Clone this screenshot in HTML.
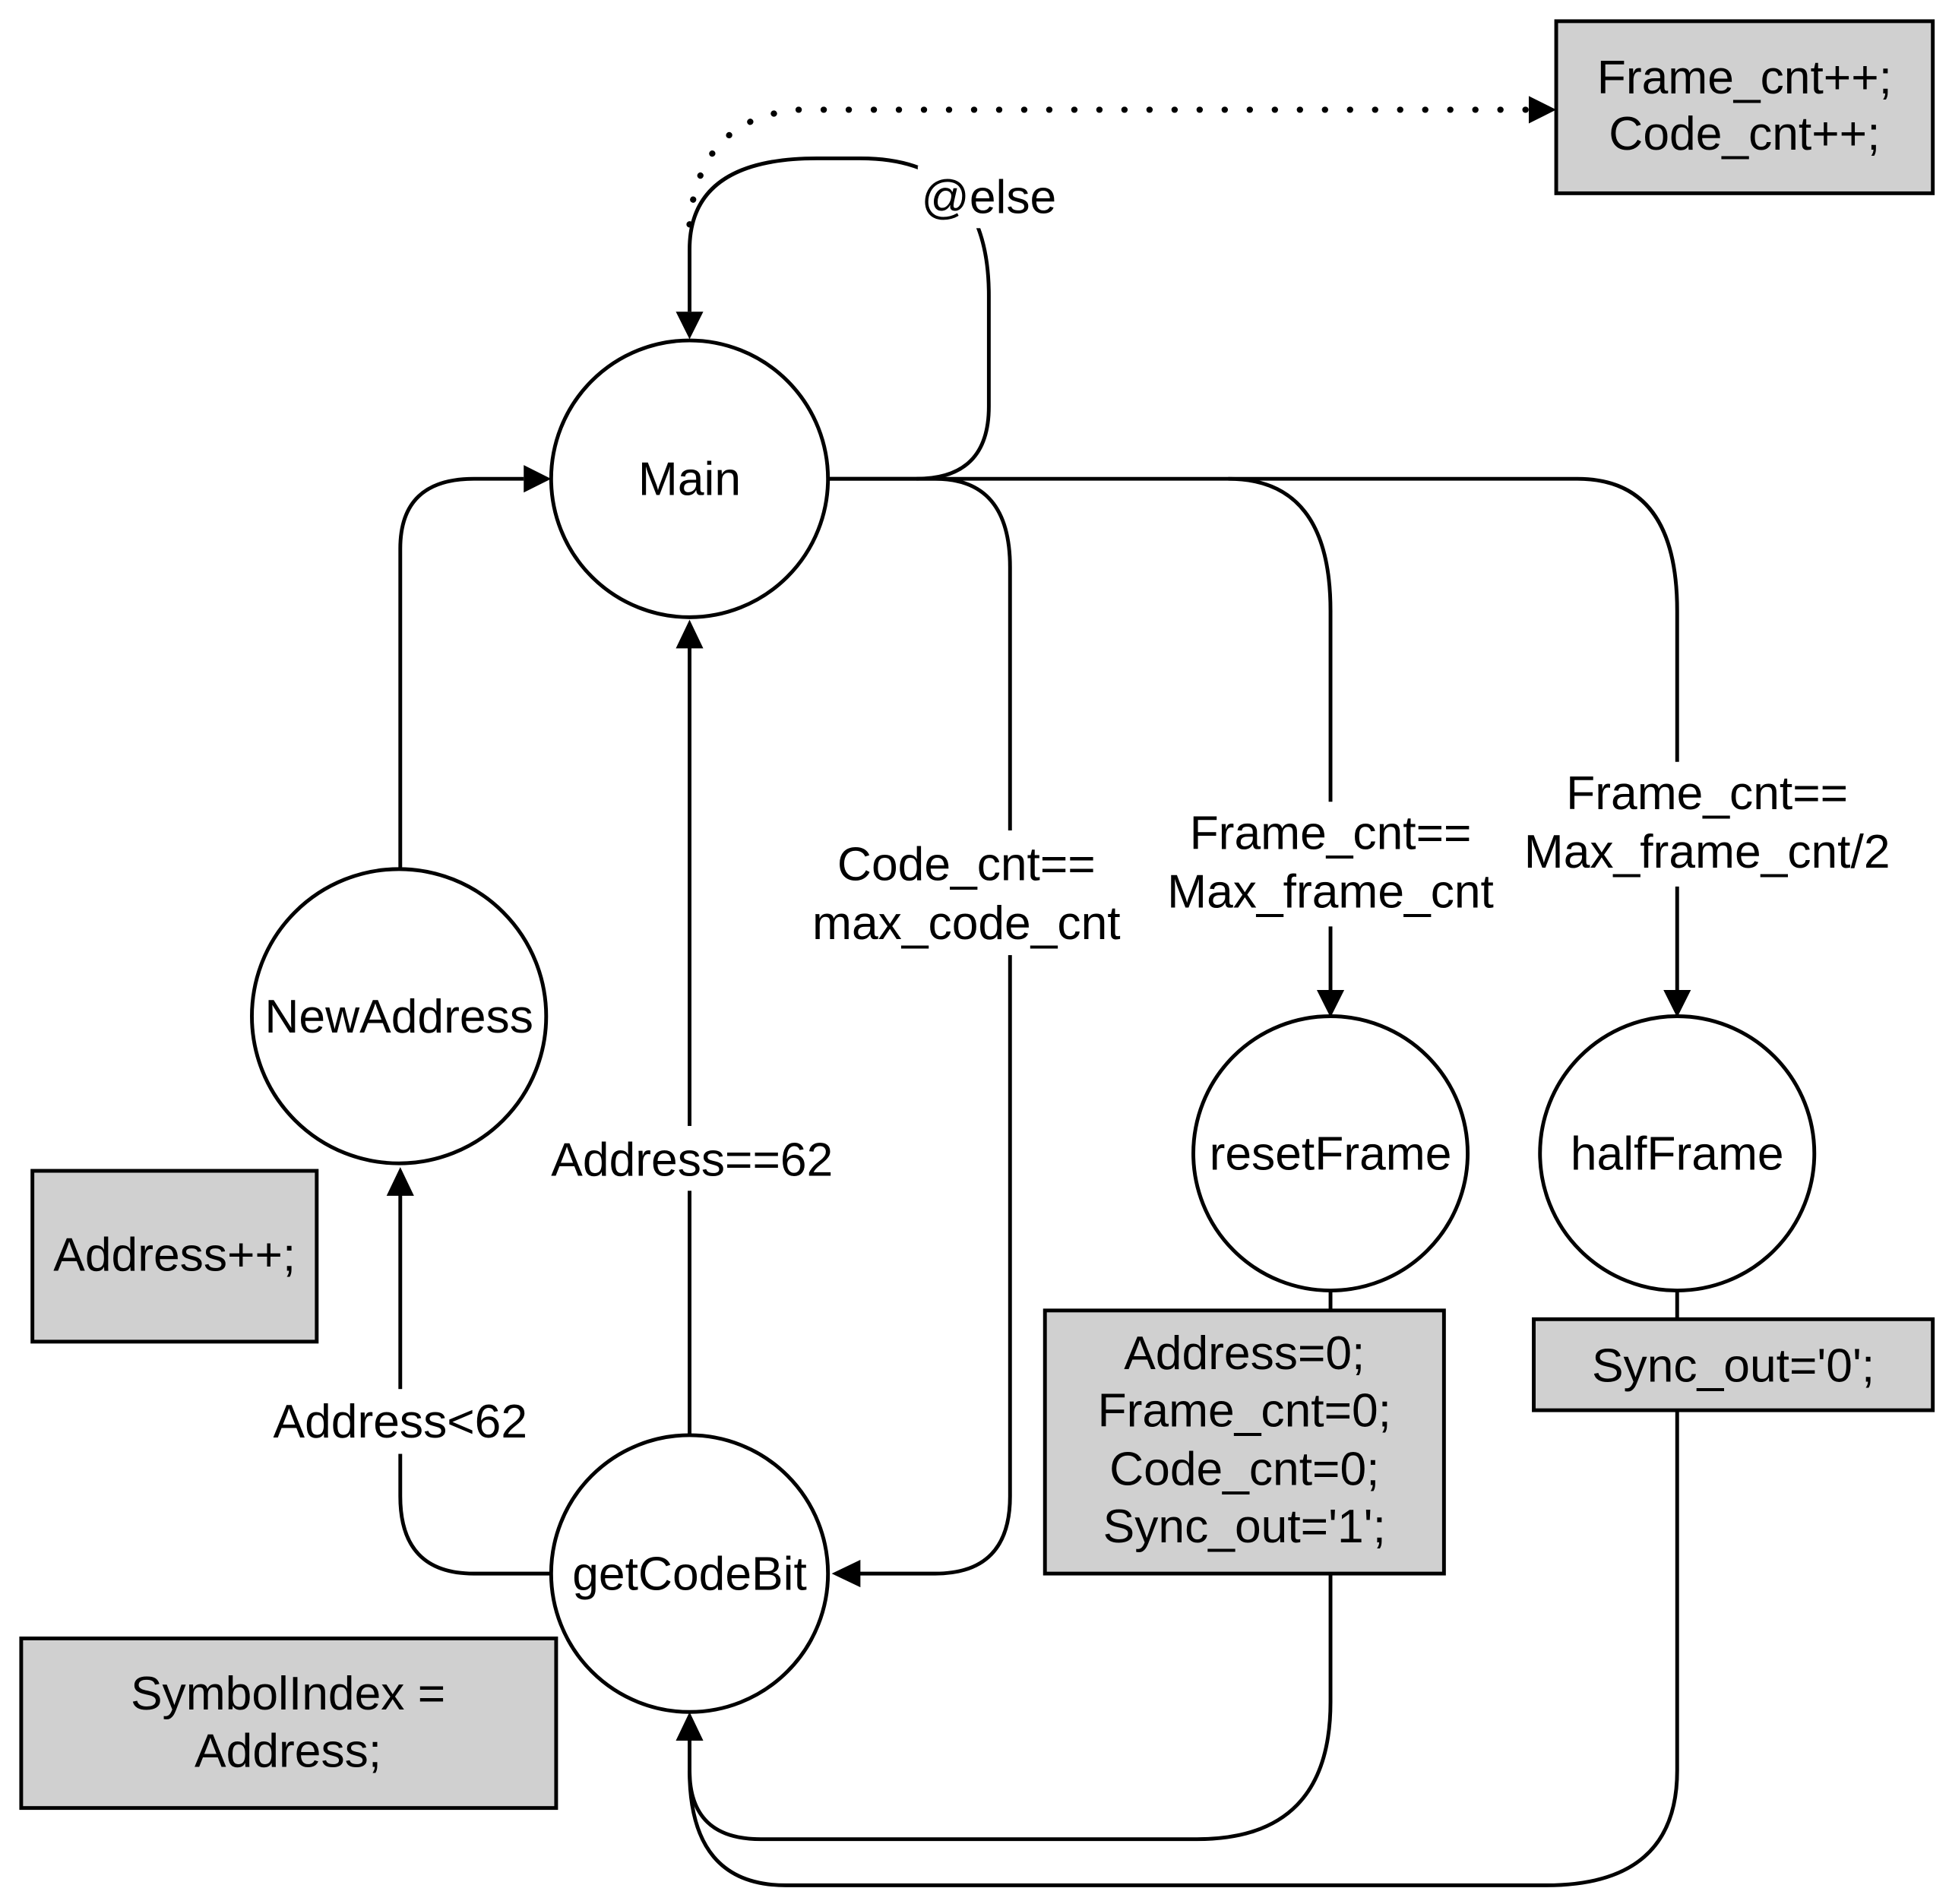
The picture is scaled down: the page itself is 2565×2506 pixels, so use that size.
<!DOCTYPE html>
<html><head><meta charset="utf-8"><style>
html,body{margin:0;padding:0;background:#fff;}
svg{display:block;}
text{font-family:"Liberation Sans",Arial,sans-serif;font-size:38px;fill:#000;text-anchor:middle;}
</style></head><body>
<svg width="2565" height="2506" viewBox="0 0 1563 1527" preserveAspectRatio="none" xmlns="http://www.w3.org/2000/svg">
<rect width="1563" height="1527" fill="#fff"/>
<g fill="none" stroke="#000" stroke-width="3">
<path d="M665,384 L735,384 Q793,384 793,326 L793,237 Q793,127 690,127 L655,127 Q553,127 553,200 L553,250"/>
<path d="M553,180 Q560,95 640,88 L1225,88" stroke-dasharray="0.1 20" stroke-linecap="round" stroke-width="5"/>
<path d="M665,384 L750,384 Q810,384 810,455 L810,1200 Q810,1262 750,1262 L688,1262"/>
<path d="M735,384 L985,384 Q1067,384 1067,490 L1067,795"/>
<path d="M985,384 L1265,384 Q1345,384 1345,490 L1345,795"/>
<path d="M553,1150 L553,518"/>
<path d="M442,1262 L380,1262 Q321,1262 321,1200 L321,957"/>
<path d="M321,697 L321,440 Q321,384 380,384 L420,384"/>
<path d="M1067,1035 L1067,1051"/>
<path d="M1067,1262 L1067,1365 Q1067,1475 960,1475 L610,1475 Q553,1475 553,1420 L553,1395"/>
<path d="M1345,1035 L1345,1058"/>
<path d="M1345,1131 L1345,1420 Q1345,1512 1240,1512 L630,1512 Q553,1512 553,1420"/>
<circle cx="553" cy="384" r="111" fill="#fff"/>
<circle cx="320" cy="815" r="118" fill="#fff"/>
<circle cx="553" cy="1262" r="111" fill="#fff"/>
<circle cx="1067" cy="925" r="110" fill="#fff"/>
<circle cx="1345" cy="925" r="110" fill="#fff"/>
<rect x="1248" y="17" width="302" height="138" fill="#d0d0d0"/>
<rect x="26" y="939" width="228" height="137" fill="#d0d0d0"/>
<rect x="17" y="1314" width="429" height="136" fill="#d0d0d0"/>
<rect x="838" y="1051" width="320" height="211" fill="#d0d0d0"/>
<rect x="1230" y="1058" width="320" height="73" fill="#d0d0d0"/>
</g>
<g fill="#000">
<polygon points="542,250 564,250 553,272"/>
<polygon points="1226,77 1226,99 1248,88"/>
<polygon points="690,1251 690,1273 667,1262"/>
<polygon points="1056,794 1078,794 1067,816"/>
<polygon points="1334,794 1356,794 1345,816"/>
<polygon points="542,520 564,520 553,497"/>
<polygon points="310,959 332,959 321,936"/>
<polygon points="420,373 420,395 442,384"/>
<polygon points="542,1396 564,1396 553,1373"/>
</g>
<g fill="#fff">
<rect x="736" y="133" width="116" height="50"/>
<rect x="646" y="666" width="260" height="100"/>
<rect x="930" y="643" width="274" height="100"/>
<rect x="1216" y="611" width="306" height="100"/>
<rect x="436" y="903" width="238" height="52"/>
<rect x="212" y="1114" width="218" height="52"/>
</g>
<text x="793" y="171">@else</text>
<text x="553" y="397">Main</text>
<text x="320" y="828">NewAddress</text>
<text x="553" y="1275">getCodeBit</text>
<text x="1067" y="938">resetFrame</text>
<text x="1345" y="938">halfFrame</text>
<text x="1399" y="75">Frame_cnt++;</text>
<text x="1399" y="120">Code_cnt++;</text>
<text x="140" y="1019">Address++;</text>
<text x="231" y="1371">SymbolIndex =</text>
<text x="231" y="1417">Address;</text>
<text x="998" y="1098">Address=0;</text>
<text x="998" y="1144">Frame_cnt=0;</text>
<text x="998" y="1191">Code_cnt=0;</text>
<text x="998" y="1237">Sync_out='1';</text>
<text x="1390" y="1108">Sync_out='0';</text>
<text x="775" y="706">Code_cnt==</text>
<text x="775" y="753">max_code_cnt</text>
<text x="1067" y="681">Frame_cnt==</text>
<text x="1067" y="728">Max_frame_cnt</text>
<text x="1369" y="649">Frame_cnt==</text>
<text x="1369" y="696">Max_frame_cnt/2</text>
<text x="555" y="943">Address==62</text>
<text x="321" y="1153">Address&lt;62</text>
</svg>
</body></html>
